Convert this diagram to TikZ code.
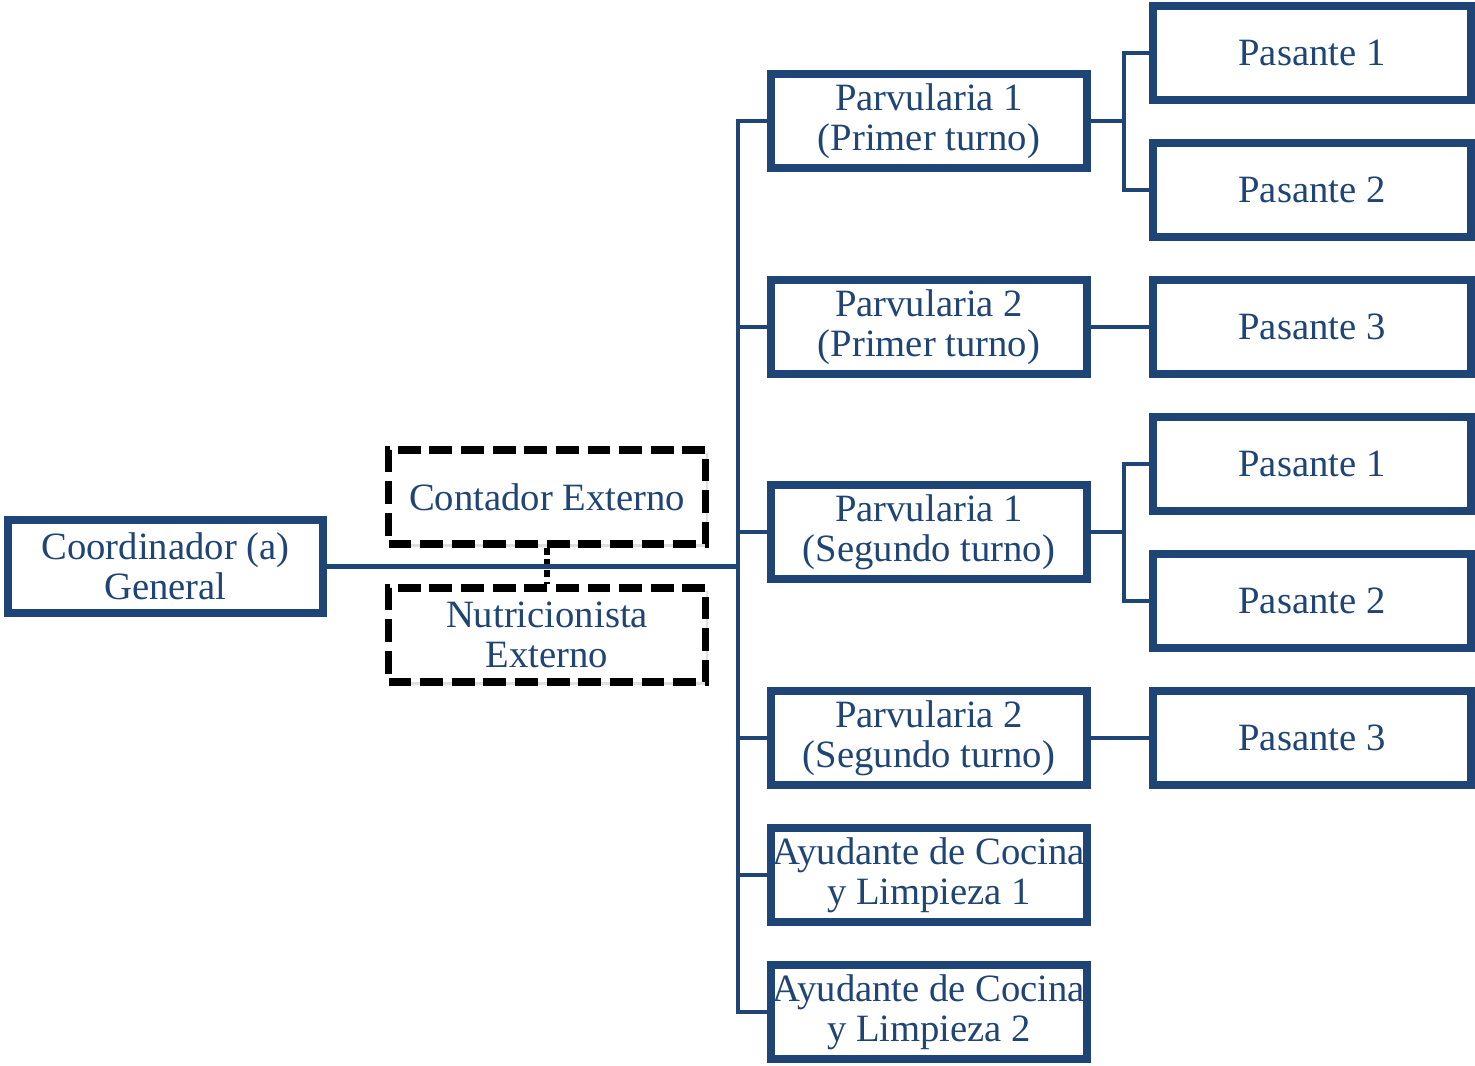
\documentclass[tikz,border=0pt]{standalone}
\usepackage{fontspec}
\setmainfont{Liberation Serif}
\usetikzlibrary{shadows}
\definecolor{orgblue}{RGB}{31,68,118}
\begin{document}
\begin{tikzpicture}
      \useasboundingbox (0,0) rectangle (29.5,21.3);
      \tikzstyle{box} = [draw=orgblue, line width=4.8pt, fill=white, text=orgblue,
        minimum width=6.32cm, minimum height=1.88cm, inner sep=0pt, align=center,
        font=\fontsize{22}{22.8}\selectfont,
        drop shadow={opacity=.25, shadow xshift=.05cm, shadow yshift=-.06cm}]
      \tikzstyle{extbox} = [box, draw=black, line width=4pt, dash pattern=on 13pt off 5pt]
      \tikzstyle{link} = [draw=orgblue, line width=2.4pt]
      \tikzstyle{dotlink} = [draw=black, line width=3pt, dash pattern=on 4pt off 2.5pt]

      % jefatura y apoyo externo
      \node[box, minimum width=6.3cm, minimum height=1.86cm] (coord) at (3.31,9.97) {Coordinador (a)\\General};
      \node[extbox, minimum width=6.34cm] (cont) at (10.94,11.36) {Contador Externo};
      \node[extbox, minimum width=6.34cm] (nutr) at (10.94,8.6) {Nutricionista\\Externo};

      % parvularias y ayudantes
      \node[box] (p1a) at (18.58,18.88) {Parvularia 1\\(Primer turno)};
      \node[box] (p2a) at (18.58,14.76) {Parvularia 2\\(Primer turno)};
      \node[box] (p1b) at (18.58,10.66) {Parvularia 1\\(Segundo turno)};
      \node[box] (p2b) at (18.58,6.54) {Parvularia 2\\(Segundo turno)};
      \node[box] (ay1) at (18.58,3.8) {Ayudante de Cocina\\y Limpieza 1};
      \node[box] (ay2) at (18.58,1.06) {Ayudante de Cocina\\y Limpieza 2};

      % pasantes
      \foreach \n/\y/\t in {s1/20.24/1, s2/17.5/2, s3/14.76/3, s4/12.02/1, s5/9.28/2, s6/6.54/3}{
        \node[box, minimum width=6.36cm] (\n) at (26.24,\y) {Pasante \t};
      }

      \coordinate (bus) at (14.76,9.97);
      \path[dotlink] (cont.south) edge (nutr.north);
      \path[link] (coord.east) edge (bus);
      \foreach \n in {p1a,p2a,p1b,p2b,ay1,ay2}{
        \draw[link] (bus) |- (\n.west);
      }
      \draw[link] (p1a.east) -- +(0.66,0) |- (s1.west);
      \draw[link] (p1a.east) -- +(0.66,0) |- (s2.west);
      \path[link] (p2a.east) edge (s3.west);
      \draw[link] (p1b.east) -- +(0.66,0) |- (s4.west);
      \draw[link] (p1b.east) -- +(0.66,0) |- (s5.west);
      \path[link] (p2b.east) edge (s6.west);
    \end{tikzpicture}
\end{document}
